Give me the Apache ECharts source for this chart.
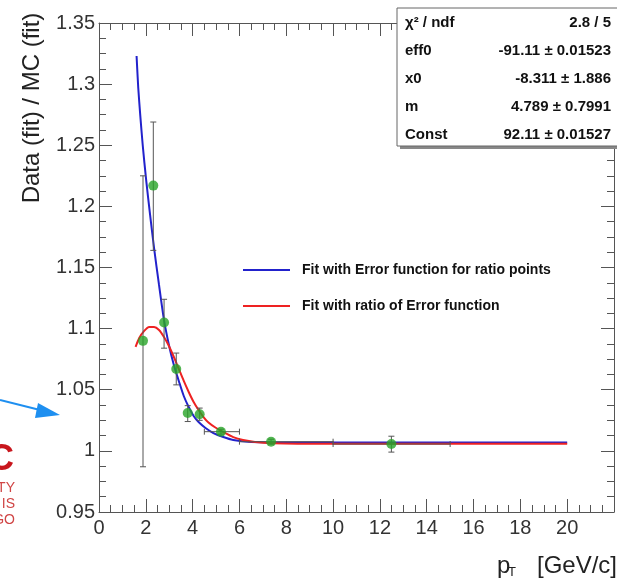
<!DOCTYPE html>
<html>
<head>
<meta charset="utf-8">
<script src="https://cdn.jsdelivr.net/npm/echarts@6/dist/echarts.min.js"></script>
<style>
html,body{margin:0;padding:0;background:#fff;}
#chart{width:617px;height:578px;}
</style>
</head>
<body>
<div id="chart"></div>
<script>
// ---- data ----
const ptX     = [1.88, 2.32, 2.78, 3.30, 3.79, 4.30, 5.21, 7.35, 12.49];
const ptY     = [1.090, 1.217, 1.105, 1.067, 1.031, 1.030, 1.0157, 1.0075, 1.0056];
const ptYLow  = [0.987, 1.164, 1.084, 1.054, 1.024, 1.025, 1.0137, 1.0055, 0.999];
const ptYHigh = [1.225, 1.269, 1.124, 1.080, 1.037, 1.035, 1.0177, 1.0095, 1.012];
const ptXLow  = [1.88, 2.32, 2.78, 3.30, 3.79, 4.30, 4.5, 6.0, 10.0];
const ptXHigh = [1.88, 2.32, 2.78, 3.30, 3.79, 4.30, 6.0, 10.0, 15.0];

const blueX = [1.605, 1.677, 1.762, 1.867, 2.015, 2.184, 2.353, 2.564, 2.776, 2.987, 3.198, 3.409, 3.621, 3.832, 4.043, 4.254, 4.550, 4.888, 5.311, 5.733, 6.367, 7.212, 8.480, 20.0];
const blueY = [1.3230, 1.2968, 1.2747, 1.2502, 1.2215, 1.1929, 1.1659, 1.1357, 1.1071, 1.0866, 1.0702, 1.0572, 1.0449, 1.0359, 1.0285, 1.0236, 1.0187, 1.0146, 1.0113, 1.0089, 1.0074, 1.0069, 1.0068, 1.0068];

const redX = [1.563, 1.719, 1.931, 2.142, 2.353, 2.564, 2.776, 2.987, 3.198, 3.409, 3.621, 3.832, 4.043, 4.254, 4.465, 4.676, 4.972, 5.311, 5.733, 6.156, 6.663, 7.424, 8.480, 20.0];
const redY = [1.0850, 1.0923, 1.0981, 1.1013, 1.1013, 1.0989, 1.0932, 1.0858, 1.0768, 1.0670, 1.0572, 1.0482, 1.0400, 1.0334, 1.0277, 1.0232, 1.0191, 1.0154, 1.0113, 1.0089, 1.0073, 1.0062, 1.0058, 1.0058];

const xTicksMin = 0, xTicksMax = 22, xInterval = 2;
const yMin = 0.95, yMax = 1.35, yInterval = 0.05;

const legendLabels = ['Fit with Error function for ratio points', 'Fit with ratio of Error function'];
const statLabels = ['χ² / ndf', 'eff0', 'x0', 'm', 'Const'];
const statValues = ['2.8 / 5', '-91.11 ± 0.01523', '-8.311 ± 1.886', '4.789 ± 0.7991', '92.11 ± 0.01527'];
const yTitle = 'Data (fit) / MC (fit)';

// ---- build ----
const FONT = '"Liberation Sans", Arial, Helvetica, sans-serif';
const AX = '#555';
const chart = echarts.init(document.getElementById('chart'), null, {renderer: 'canvas'});

const errData = ptX.map((x, i) => [x, ptY[i], ptYLow[i], ptYHigh[i], ptXLow[i], ptXHigh[i]]);

function errRender(params, api) {
  const x = api.value(0), y = api.value(1), yl = api.value(2), yh = api.value(3), xl = api.value(4), xh = api.value(5);
  const lo = api.coord([x, yl]), hi = api.coord([x, yh]);
  const st = {stroke: '#555', lineWidth: 1};
  const ch = [
    {type: 'line', shape: {x1: lo[0], y1: lo[1], x2: hi[0], y2: hi[1]}, style: st},
    {type: 'line', shape: {x1: lo[0] - 3, y1: lo[1], x2: lo[0] + 3, y2: lo[1]}, style: st},
    {type: 'line', shape: {x1: hi[0] - 3, y1: hi[1], x2: hi[0] + 3, y2: hi[1]}, style: st}
  ];
  if (xh > xl) {
    const l = api.coord([xl, y]), r = api.coord([xh, y]);
    ch.push({type: 'line', shape: {x1: l[0], y1: l[1], x2: r[0], y2: r[1]}, style: st});
    ch.push({type: 'line', shape: {x1: l[0], y1: l[1] - 3, x2: l[0], y2: l[1] + 3}, style: st});
    ch.push({type: 'line', shape: {x1: r[0], y1: r[1] - 3, x2: r[0], y2: r[1] + 3}, style: st});
  }
  return {type: 'group', children: ch};
}

const axisCommon = {
  type: 'value',
  axisLine: {show: true, onZero: false, lineStyle: {color: AX, width: 1}},
  axisTick: {show: true, inside: true, length: 13, lineStyle: {color: AX, width: 1}},
  minorTick: {show: true, splitNumber: 4, length: 7, lineStyle: {color: AX, width: 1}},
  splitLine: {show: false},
  minorSplitLine: {show: false}
};

const statGroup = [];
statGroup.push({type: 'rect', shape: {x: 400, y: 11, width: 230, height: 138}, style: {fill: '#888'}, z: 99});
statGroup.push({type: 'rect', shape: {x: 397, y: 8, width: 230, height: 138}, style: {fill: '#fff', stroke: '#666', lineWidth: 1}, z: 100});
statLabels.forEach((t, i) => {
  const yy = 23 + i * 28;
  statGroup.push({type: 'text', x: 405, y: yy, z: 101, style: {text: t, fontFamily: FONT, fontWeight: 'bold', fontSize: 15, fill: '#111', align: 'left', verticalAlign: 'middle'}});
  statGroup.push({type: 'text', x: 611, y: yy, z: 101, style: {text: statValues[i], fontFamily: FONT, fontWeight: 'bold', fontSize: 15, fill: '#111', align: 'right', verticalAlign: 'middle'}});
});

const legendColors = ['#2222cc', '#ee2222'];
const legendY = [270, 306];
const legendEls = [];
legendLabels.forEach((t, i) => {
  legendEls.push({type: 'line', shape: {x1: 243, y1: legendY[i], x2: 290, y2: legendY[i]}, style: {stroke: legendColors[i], lineWidth: 2}, z: 100});
  legendEls.push({type: 'text', x: 302, y: legendY[i], z: 100, style: {text: t, fontFamily: FONT, fontWeight: 'bold', fontSize: 14, fill: '#111', align: 'left', verticalAlign: 'middle'}});
});

const option = {
  backgroundColor: '#fff',
  animation: false,
  grid: {left: 99, top: 23, right: -3, bottom: 66, containLabel: false},
  xAxis: [
    Object.assign({}, axisCommon, {
      position: 'bottom', min: xTicksMin, max: xTicksMax, interval: xInterval,
      axisLabel: {show: true, margin: 6, fontFamily: FONT, fontSize: 20, color: '#333',
        formatter: v => (v > 21 ? '' : String(v))}
    }),
    Object.assign({}, axisCommon, {
      position: 'top', min: xTicksMin, max: xTicksMax, interval: xInterval,
      axisLabel: {show: false}
    })
  ],
  yAxis: [
    Object.assign({}, axisCommon, {
      position: 'left', min: yMin, max: yMax, interval: yInterval,
      axisLabel: {show: true, margin: 4, fontFamily: FONT, fontSize: 20, color: '#333',
        formatter: v => String(+v.toFixed(2))}
    }),
    Object.assign({}, axisCommon, {
      position: 'right', min: yMin, max: yMax, interval: yInterval,
      axisLabel: {show: false}
    })
  ],
  series: [
    {
      type: 'line', name: legendLabels[0], data: blueX.map((x, i) => [x, blueY[i]]),
      smooth: 0.25, symbol: 'none',
      lineStyle: {color: '#2222cc', width: 2}, z: 3
    },
    {
      type: 'line', name: legendLabels[1], data: redX.map((x, i) => [x, redY[i]]),
      smooth: 0.25, symbol: 'none',
      lineStyle: {color: '#ee2222', width: 2}, z: 4
    },
    {
      type: 'custom', renderItem: errRender, data: errData, z: 5,
      encode: {x: 0, y: 1}
    },
    {
      type: 'scatter', data: ptX.map((x, i) => [x, ptY[i]]),
      symbol: 'circle', symbolSize: 10, itemStyle: {color: '#28a428'}, z: 6
    }
  ],
  graphic: [].concat(statGroup, legendEls, [
    {type: 'text', x: 32, y: 108, rotation: Math.PI / 2, z: 100,
      style: {text: yTitle, fontFamily: FONT, fontSize: 24, fill: '#222', align: 'center', verticalAlign: 'middle'}},
    {type: 'text', x: 497, y: 566, z: 100,
      style: {text: 'p', fontFamily: FONT, fontSize: 24, fill: '#222', align: 'left', verticalAlign: 'middle'}},
    {type: 'text', x: 508, y: 572, z: 100,
      style: {text: 'T', fontFamily: FONT, fontSize: 13, fill: '#222', align: 'left', verticalAlign: 'middle'}},
    {type: 'text', x: 617, y: 566, z: 100,
      style: {text: '[GeV/c]', fontFamily: FONT, fontSize: 24, fill: '#222', align: 'right', verticalAlign: 'middle'}},
    // arrow
    {type: 'line', shape: {x1: 0, y1: 400, x2: 44, y2: 411}, style: {stroke: '#1e8ff0', lineWidth: 2}, z: 100},
    {type: 'polygon', shape: {points: [[60, 415], [38, 403], [35, 418]]}, style: {fill: '#1e8ff0'}, z: 100},
    // logo fragment
    {type: 'text', x: 14, y: 460, z: 100,
      style: {text: 'C', fontFamily: FONT, fontWeight: 'bold', fontSize: 36, fill: '#c8161d', align: 'right', verticalAlign: 'middle'}},
    {type: 'text', x: 15, y: 488, z: 100,
      style: {text: 'TY', fontFamily: FONT, fontSize: 14, fill: '#d04545', align: 'right', verticalAlign: 'middle'}},
    {type: 'text', x: 15, y: 504, z: 100,
      style: {text: 'IS', fontFamily: FONT, fontSize: 14, fill: '#d04545', align: 'right', verticalAlign: 'middle'}},
    {type: 'text', x: 15, y: 520, z: 100,
      style: {text: 'GO', fontFamily: FONT, fontSize: 14, fill: '#d04545', align: 'right', verticalAlign: 'middle'}}
  ])
};
chart.setOption(option);
</script>
</body>
</html>
